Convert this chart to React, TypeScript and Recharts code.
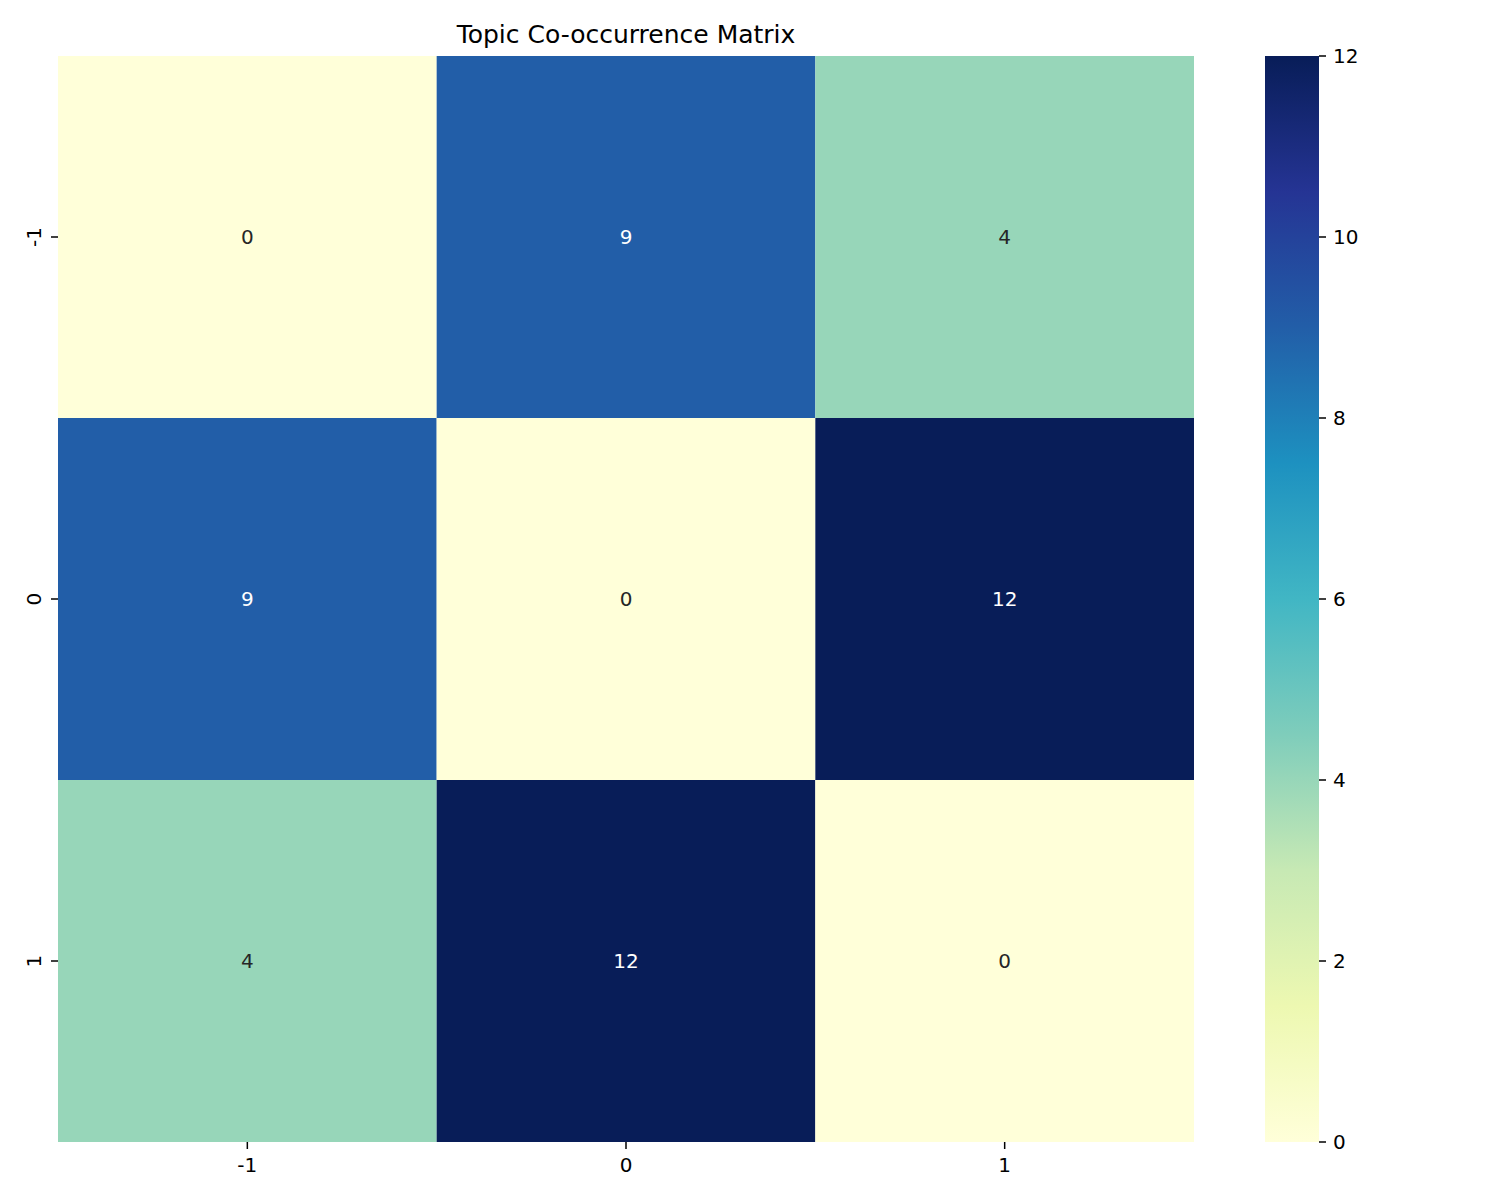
import React from 'react';
import { ComposedChart, XAxis, YAxis, ReferenceArea } from 'recharts';

// topic ids on both axes
const topics = ['-1', '0', '1'];

// co-occurrence counts, one row per topic
const rowMinus1 = [0, 9, 4];
const row0 = [9, 0, 12];
const row1 = [4, 12, 0];
const matrix = [rowMinus1, row0, row1];

const colorbarTicks = [0, 2, 4, 6, 8, 10, 12];
const vmin = 0;
const vmax = 12;

// YlGnBu stops (matplotlib)
const ylgnbu = ['#ffffd9', '#edf8b1', '#c7e9b4', '#7fcdbb', '#41b6c4', '#1d91c0', '#225ea8', '#253494', '#081d58'];

const hexToRgb = (h: string) => [1, 3, 5].map(i => parseInt(h.slice(i, i + 2), 16));

const colorFor = (v: number) => {
  const t = Math.min(1, Math.max(0, (v - vmin) / (vmax - vmin))) * (ylgnbu.length - 1);
  const i = Math.min(Math.floor(t), ylgnbu.length - 2);
  const f = t - i;
  const a = hexToRgb(ylgnbu[i]);
  const b = hexToRgb(ylgnbu[i + 1]);
  const c = a.map((x, k) => Math.round(x + (b[k] - x) * f));
  return `rgb(${c[0]},${c[1]},${c[2]})`;
};

// dark text on light cells, white on dark ones
const textFor = (v: number) => ((v - vmin) / (vmax - vmin) > 0.5 ? '#ffffff' : '#262626');

const cells = matrix.flatMap((row, i) =>
  row.map((value, j) => ({ row: i, col: j, value }))
);

const tickCenters = topics.map((_, i) => i + 0.5);
const font = 'DejaVu Sans, sans-serif';
const tickStyle = { fontSize: 20, fill: '#000', fontFamily: font };

const App: React.FC = () => {
  return (
    <div style={{ position: 'absolute', left: 0, top: 0, width: 1500, height: 1200, background: '#fff' }}>
      <div
        style={{
          position: 'absolute',
          left: 58,
          width: 1136,
          top: 20,
          lineHeight: '30px',
          textAlign: 'center',
          fontFamily: font,
          fontSize: 25,
          color: '#000',
        }}
      >
        Topic Co-occurrence Matrix
      </div>

      <div style={{ position: 'absolute', left: 0, top: 0 }}>
        <ComposedChart width={1240} height={1200} margin={{ top: 56, right: 46, left: 0, bottom: 0 }}>
          <XAxis
            type="number"
            dataKey="x"
            domain={[0, 3]}
            ticks={tickCenters}
            tickFormatter={(v: number) => topics[Math.floor(v)]}
            axisLine={false}
            tickSize={7}
            tickMargin={9}
            tickLine={{ stroke: '#000', strokeWidth: 1.5 }}
            tick={tickStyle}
            height={58}
            allowDataOverflow
          />
          <YAxis
            type="number"
            dataKey="y"
            domain={[0, 3]}
            reversed
            ticks={tickCenters}
            axisLine={false}
            tickSize={7}
            tickLine={{ stroke: '#000', strokeWidth: 1.5 }}
            width={58}
            allowDataOverflow
            tick={({ x, y, payload }: any) => (
              <text
                x={x - 8}
                y={y}
                transform={`rotate(-90, ${x - 8}, ${y})`}
                textAnchor="middle"
                style={tickStyle}
                fill="#000"
              >
                {topics[Math.floor(payload.value)]}
              </text>
            )}
          />
          {cells.map(c => (
            <ReferenceArea
              key={`${c.row}-${c.col}`}
              x1={c.col}
              x2={c.col + 1}
              y1={c.row}
              y2={c.row + 1}
              fill={colorFor(c.value)}
              fillOpacity={1}
              stroke="none"
              ifOverflow="visible"
              label={{ value: String(c.value), position: 'center', fill: textFor(c.value), fontSize: 20, fontFamily: font }}
            />
          ))}
        </ComposedChart>
      </div>

      <div style={{ position: 'absolute', left: 1265, top: 0 }}>
        <ComposedChart width={134} height={1200} margin={{ top: 56, right: 0, left: 0, bottom: 58 }}>
          <defs>
            <linearGradient id="cbGrad" x1="0" y1="1" x2="0" y2="0">
              {ylgnbu.map((c, i) => (
                <stop key={c} offset={`${(i / (ylgnbu.length - 1)) * 100}%`} stopColor={c} />
              ))}
            </linearGradient>
          </defs>
          <XAxis type="number" dataKey="x" domain={[0, 1]} hide allowDataOverflow />
          <YAxis
            type="number"
            dataKey="y"
            orientation="right"
            domain={[vmin, vmax]}
            ticks={colorbarTicks}
            axisLine={false}
            tickSize={7}
            tickMargin={7}
            tickLine={{ stroke: '#000', strokeWidth: 1.5 }}
            tick={tickStyle}
            width={80}
            interval={0}
            allowDataOverflow
          />
          <ReferenceArea x1={0} x2={1} y1={vmin} y2={vmax} fill="url(#cbGrad)" fillOpacity={1} stroke="none" ifOverflow="visible" />
        </ComposedChart>
      </div>
    </div>
  );
};

export default App;
